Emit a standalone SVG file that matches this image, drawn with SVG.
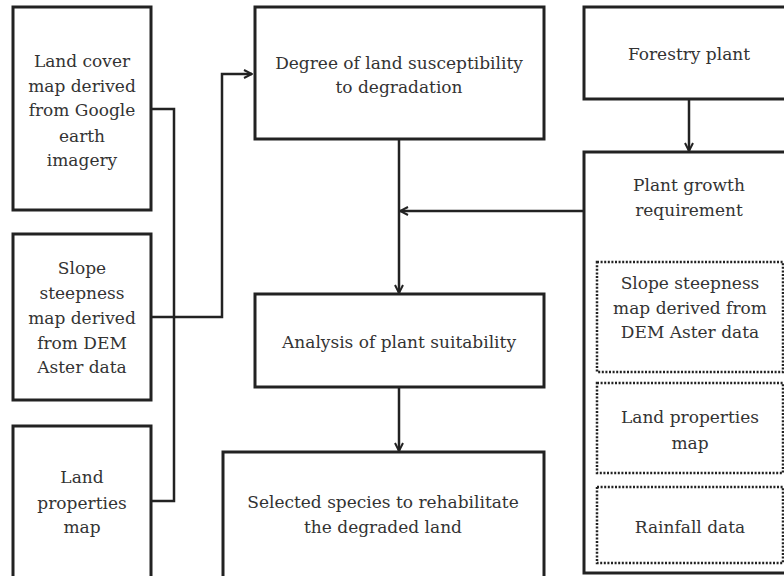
<svg xmlns="http://www.w3.org/2000/svg" width="784" height="576" viewBox="0 0 784 576">
<style>
.box{fill:#fff;stroke:#222;stroke-width:3}
.dot{fill:none;stroke:#222;stroke-width:2.5;stroke-dasharray:2 1.6}
.ln{fill:none;stroke:#222;stroke-width:2.5}
text{font-family:"DejaVu Serif","Liberation Serif",serif;font-size:17px;fill:#333;text-anchor:middle}
</style>
<defs>
<marker id="ah" viewBox="0 0 10 10" refX="9" refY="5" markerWidth="10" markerHeight="10" markerUnits="userSpaceOnUse" orient="auto">
<path d="M1,1 L9,5 L1,9" fill="none" stroke="#222" stroke-width="2"/>
</marker>
</defs>
<rect width="784" height="576" fill="#fff"/>
<g id="connectors">
<path class="ln" d="M151,109 H174 V501 H151"/>
<path class="ln" d="M151,317 H222 V74 H252" marker-end="url(#ah)"/>
<path class="ln" d="M399,139 V293" marker-end="url(#ah)"/>
<path class="ln" d="M584,211 H400" marker-end="url(#ah)"/>
<path class="ln" d="M399,387 V451" marker-end="url(#ah)"/>
<path class="ln" d="M689,99 V151" marker-end="url(#ah)"/>
</g>
<g id="landcover">
<rect class="box" x="13" y="7" width="138" height="203"/>
<text x="82" y="67">Land cover</text>
<text x="82" y="92">map derived</text>
<text x="82" y="116">from Google</text>
<text x="82" y="142">earth</text>
<text x="82" y="166">imagery</text>
</g>
<g id="slope">
<rect class="box" x="13" y="234" width="138" height="166"/>
<text x="82" y="274">Slope</text>
<text x="82" y="299">steepness</text>
<text x="82" y="324">map derived</text>
<text x="82" y="349">from DEM</text>
<text x="82" y="373">Aster data</text>
</g>
<g id="landprop">
<rect class="box" x="13" y="426" width="138" height="160"/>
<text x="82" y="483">Land</text>
<text x="82" y="509">properties</text>
<text x="82" y="533">map</text>
</g>
<g id="degree">
<rect class="box" x="255" y="7" width="289" height="132"/>
<text x="399" y="69">Degree of land susceptibility</text>
<text x="399" y="93">to degradation</text>
</g>
<g id="analysis">
<rect class="box" x="255" y="294" width="289" height="93"/>
<text x="399" y="348">Analysis of plant suitability</text>
</g>
<g id="selected">
<rect class="box" x="223" y="452" width="321" height="134"/>
<text x="383" y="508">Selected species to rehabilitate</text>
<text x="383" y="533">the degraded land</text>
</g>
<g id="forestry">
<rect class="box" x="584" y="7" width="210" height="92"/>
<text x="689" y="60">Forestry plant</text>
</g>
<g id="growth">
<rect class="box" x="584" y="152" width="210" height="421"/>
<text x="689" y="191">Plant growth</text>
<text x="689" y="216">requirement</text>
</g>
<g id="req-slope">
<rect class="dot" x="597" y="262" width="186" height="110"/>
<text x="690" y="289">Slope steepness</text>
<text x="690" y="314">map derived from</text>
<text x="690" y="338">DEM Aster data</text>
</g>
<g id="req-land">
<rect class="dot" x="597" y="383" width="186" height="90"/>
<text x="690" y="423">Land properties</text>
<text x="690" y="449">map</text>
</g>
<g id="req-rain">
<rect class="dot" x="597" y="487" width="186" height="76"/>
<text x="690" y="533">Rainfall data</text>
</g>
</svg>
